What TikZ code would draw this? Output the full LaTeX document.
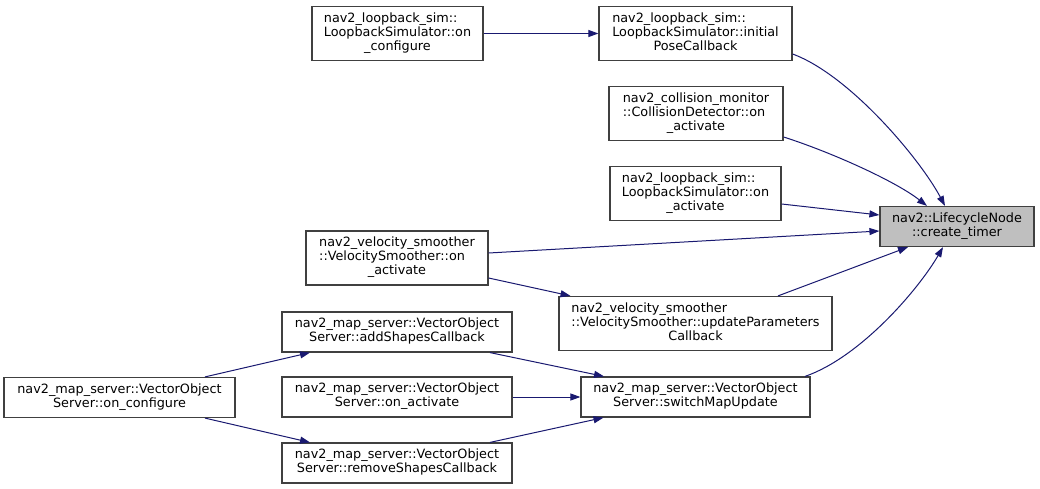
\documentclass[tikz,border=0pt]{standalone}
\usepackage{fontspec}
\setmainfont{DejaVu Sans}
\usepackage{xcolor}
\usetikzlibrary{arrows.meta}
\definecolor{edgeblue}{RGB}{25,25,112}
\definecolor{boxgray}{RGB}{64,64,64}
\definecolor{hlgray}{RGB}{191,191,191}
% first lines flush left, last line centred
\newcommand{\fnl}[2]{\begin{tabular}{@{}l@{}}#1\\\multicolumn{1}{@{}c@{}}{#2}\end{tabular}}

\begin{document}
\begin{tikzpicture}[x=1pt,y=-1pt,
  fn/.style={draw=boxgray, line width=1.2pt, fill=white, inner sep=0pt,
    font=\fontsize{12.8}{14}\selectfont, minimum height=#1},
  fn/.default=54pt,
  call/.style={draw=edgeblue, line width=1pt, -{Triangle[length=10pt,width=7pt]}}]
\useasboundingbox (0,0) rectangle (1040,489);

%The functions:
\node[fn, minimum width=171pt] (lsConf) at (397.5,33.5) {\fnl{nav2\_loopback\_sim::\\LoopbackSimulator::on}{\_configure}};
\node[fn, minimum width=193pt] (lsInit) at (695.5,33.5) {\fnl{nav2\_loopback\_sim::\\LoopbackSimulator::initial}{PoseCallback}};
\node[fn, minimum width=174pt] (cdAct) at (696,113.5) {\fnl{nav2\_collision\_monitor\\::CollisionDetector::on}{\_activate}};
\node[fn, minimum width=171pt] (lsAct) at (695.5,193.5) {\fnl{nav2\_loopback\_sim::\\LoopbackSimulator::on}{\_activate}};
\node[fn=40pt, minimum width=154pt, fill=hlgray] (timer) at (957,226.5) {\fnl{nav2::LifecycleNode}{::create\_timer}};
\node[fn, minimum width=182pt] (vsAct) at (397,258) {\fnl{nav2\_velocity\_smoother\\::VelocitySmoother::on}{\_activate}};
\node[fn, minimum width=273pt] (vsUpd) at (695.5,323.5) {\fnl{nav2\_velocity\_smoother\\::VelocitySmoother::updateParameters}{Callback}};
\node[fn=40pt, minimum width=230pt] (vosAdd) at (397,332) {\fnl{nav2\_map\_server::VectorObject}{Server::addShapesCallback}};
\node[fn=40pt, minimum width=231pt] (vosConf) at (119.5,397.5) {\fnl{nav2\_map\_server::VectorObject}{Server::on\_configure}};
\node[fn=40pt, minimum width=230pt] (vosAct) at (397,397) {\fnl{nav2\_map\_server::VectorObject}{Server::on\_activate}};
\node[fn=40pt, minimum width=229pt] (switchMap) at (695.5,397) {\fnl{nav2\_map\_server::VectorObject}{Server::switchMapUpdate}};
\node[fn=40pt, minimum width=230pt] (vosRem) at (397,463) {\fnl{nav2\_map\_server::VectorObject}{Server::removeShapesCallback}};

%The calls into create_timer:
\draw[call] ([yshift=-20.5pt]lsInit.east) .. controls +(57,21) and +(-25,-47) .. ([xshift=-12pt]timer.north);
\draw[call] ([yshift=-23.5pt]cdAct.east) .. controls +(47,15) and +(-32,-25) .. ([xshift=-30pt]timer.north);
\draw[call] ([yshift=-10.5pt]lsAct.east) -- ([yshift=11.5pt]timer.west);
\draw[call] ([yshift=5pt]vsAct.east) -- ([yshift=-4.5pt]timer.west);
\draw[call] ([xshift=82.5pt]vsUpd.north) -- ([xshift=-49pt]timer.south);
\draw[call] ([xshift=109.5pt]switchMap.north) .. controls +(55,-19) and +(-25,43) .. ([xshift=-14pt]timer.south);

%The other calls:
\draw[call] (lsConf) -- (lsInit);
\draw[call] ([yshift=-20pt]vsAct.east) -- ([xshift=-125pt]vsUpd.north);
\draw[call] ([xshift=85.5pt]vosConf.north) -- ([xshift=-87pt]vosAdd.south);
\draw[call] ([xshift=85.5pt]vosConf.south) -- ([xshift=-87pt]vosRem.north);
\draw[call] ([xshift=93pt]vosAdd.south) -- ([xshift=-91.5pt]switchMap.north);
\draw[call] (vosAct) -- (switchMap);
\draw[call] ([xshift=93pt]vosRem.north) -- ([xshift=-92pt]switchMap.south);

\end{tikzpicture}
\end{document}
